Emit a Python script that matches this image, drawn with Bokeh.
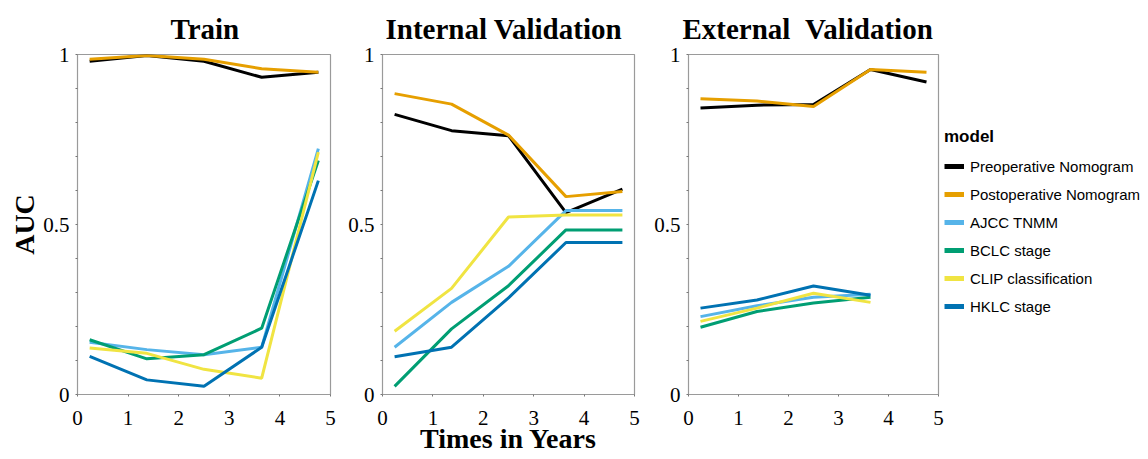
from bokeh.plotting import figure
from bokeh.layouts import row
from bokeh.models import Legend, LegendItem, FixedTicker, Range1d, CustomJSTickFormatter
from bokeh.embed import file_html
from bokeh.resources import INLINE

models = ["Preoperative Nomogram", "Postoperative Nomogram", "AJCC TNMM",
          "BCLC stage", "CLIP classification", "HKLC stage"]
colors = ["#000000", "#E69F00", "#56B4E9", "#009E73", "#F0E442", "#0072B2"]

years = [0.24, 1.37, 2.5, 3.64, 4.76]

# Train
train_pre = [0.980, 0.997, 0.980, 0.933, 0.948]
train_post = [0.986, 0.997, 0.986, 0.958, 0.948]
train_ajcc = [0.154, 0.132, 0.117, 0.139, 0.723]
train_bclc = [0.161, 0.105, 0.117, 0.195, 0.688]
train_clip = [0.137, 0.121, 0.074, 0.048, 0.713]
train_hklc = [0.112, 0.043, 0.024, 0.139, 0.629]

# Internal validation
int_pre = [0.824, 0.776, 0.761, 0.535, 0.604]
int_post = [0.885, 0.854, 0.763, 0.582, 0.597]
int_ajcc = [0.139, 0.271, 0.377, 0.541, 0.541]
int_bclc = [0.024, 0.193, 0.320, 0.484, 0.484]
int_clip = [0.186, 0.312, 0.522, 0.528, 0.528]
int_hklc = [0.111, 0.139, 0.284, 0.447, 0.447]

# External validation (staging systems have 4 time points)
ext_pre = [0.843, 0.851, 0.853, 0.956, 0.919]
ext_post = [0.870, 0.863, 0.847, 0.956, 0.948]
ext_ajcc = [0.229, 0.261, 0.286, 0.295]
ext_bclc = [0.198, 0.244, 0.269, 0.286]
ext_clip = [0.215, 0.254, 0.298, 0.271]
ext_hklc = [0.254, 0.278, 0.319, 0.292]

panels = [
    ("Train", [train_pre, train_post, train_ajcc, train_bclc, train_clip, train_hklc]),
    ("Internal Validation", [int_pre, int_post, int_ajcc, int_bclc, int_clip, int_hklc]),
    ("External\u00a0\u00a0Validation", [ext_pre, ext_post, ext_ajcc, ext_bclc, ext_clip, ext_hklc]),
]

SERIF = "Liberation Serif"
SANS = "Liberation Sans"
H = 459

geoms = [  # width, min_border_left, min_border_right, title offset from frame left
    (340, 77, 10, 93),
    (304, 42, 10, 3),
    (300, 44, 6, -6),
]

figs = []
for i, ((title, series), (w, bl, br, toff)) in enumerate(zip(panels, geoms)):
    p = figure(width=w, height=H, output_backend="svg", toolbar_location=None,
               x_range=Range1d(0, 5), y_range=Range1d(0, 1),
               min_border_left=bl, min_border_right=br,
               min_border_top=54, min_border_bottom=H - 54 - 340)
    p.title.text = title
    p.title.align = "left"
    p.title.offset = toff
    p.title.vertical_align = "top"
    p.title.text_font = SERIF
    p.title.text_font_style = "bold"
    p.title.text_font_size = "29px"
    p.title.text_color = "#000000"
    p.title.standoff = 16
    p.xgrid.visible = False
    p.ygrid.visible = False
    p.outline_line_color = "#9a9a9a"
    p.outline_line_width = 1.2
    p.background_fill_color = "white"
    p.border_fill_color = "white"

    p.xaxis.ticker = FixedTicker(ticks=[0, 1, 2, 3, 4, 5])
    p.yaxis.ticker = FixedTicker(ticks=[0, 0.5, 1],
                                 minor_ticks=[0.1, 0.2, 0.3, 0.4, 0.6, 0.7, 0.8, 0.9])
    p.yaxis.formatter = CustomJSTickFormatter(code="return tick.toString();")
    for ax in (p.xaxis[0], p.yaxis[0]):
        ax.axis_line_color = "#9a9a9a"
        ax.major_tick_line_color = "#777777"
        ax.minor_tick_line_color = "#777777"
        ax.major_tick_in = 0
        ax.minor_tick_in = 0
        ax.major_tick_out = 2
        ax.minor_tick_out = 2
        ax.major_label_text_font = SERIF
        ax.major_label_text_font_size = "21px"
        ax.major_label_text_color = "#000000"
        ax.axis_label_text_font = SERIF
        ax.axis_label_text_font_style = "bold"
        ax.axis_label_text_font_size = "28px"
        ax.axis_label_text_color = "#000000"
    p.xaxis.minor_tick_line_color = None
    p.xaxis.major_label_standoff = 14
    p.yaxis.major_label_standoff = 6

    if i == 0:
        p.yaxis.axis_label = "AUC"
        p.yaxis.axis_label_standoff = 0
    if i == 1:
        p.xaxis.axis_label = "Times in Years"
        p.xaxis.axis_label_standoff = -5

    for vals, col in zip(series, colors):
        p.line(years[:len(vals)], vals, line_color=col, line_width=3)

    figs.append(p)

# legend panel
p4 = figure(width=200, height=H, output_backend="svg", toolbar_location=None,
            x_range=Range1d(0, 1), y_range=Range1d(0, 1),
            min_border_left=0, min_border_right=0, min_border_top=0, min_border_bottom=0)
p4.axis.visible = False
p4.xgrid.visible = False
p4.ygrid.visible = False
p4.outline_line_color = None
items = []
nan = float("nan")
for name, col in zip(models, colors):
    r = p4.line(x=[nan], y=[nan], line_color=col, line_width=5)
    items.append(LegendItem(label=name, renderers=[r]))
legend = Legend(items=items, location=(0, 78), title="model",
                title_text_font=SANS, title_text_font_style="bold",
                title_text_font_size="17px", title_text_color="#000000",
                title_standoff=9,
                label_text_font=SANS, label_text_font_size="15px",
                label_text_color="#000000",
                label_standoff=6, glyph_width=20, glyph_height=20,
                label_height=20, spacing=8, padding=0, margin=0,
                border_line_color=None, background_fill_alpha=0)
p4.add_layout(legend, "center")
figs.append(p4)

layout = row(*figs)
open("out.html", "w").write(file_html(layout, INLINE))
